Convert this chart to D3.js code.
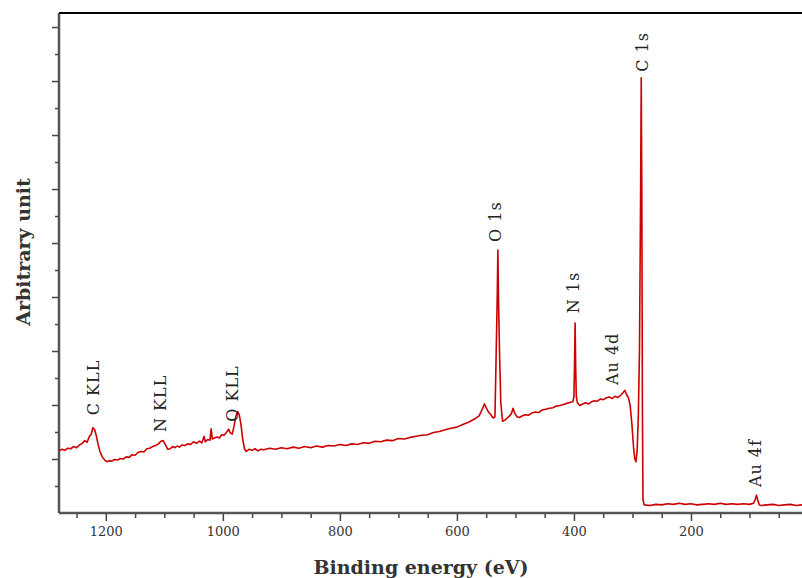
<!DOCTYPE html>
<html lang="en">
<head>
    <meta charset="UTF-8">
    <title>XPS survey spectrum</title>
    <script src="https://d3js.org/d3.v7.min.js"></script>
    <style>
        body { margin: 0; background: #fff; }
        .tick-label { font-family: "DejaVu Serif", serif; font-size: 13px; fill: #333; }
        .axis-title { font-family: "DejaVu Serif", serif; font-size: 19px; font-weight: bold; fill: #333; }
        .peak-label { font-family: "DejaVu Serif", serif; font-size: 16px; letter-spacing: 1px; fill: #222; }
        .spectrum { fill: none; stroke: #cc0000; stroke-width: 1.6px; stroke-linejoin: round; }
    </style>
</head>
<body>
<div id="chart"></div>
<script>
    const bindingEnergy = [
        1280, 1275, 1270, 1265, 1260, 1255, 1250, 1245, 1240, 1236, 1232, 1228, 1225, 1222, 1219, 1216, 1213, 1210, 1206, 1202,
        1198, 1194, 1190, 1185, 1180, 1175, 1170, 1165, 1160, 1155, 1150, 1145, 1140, 1135, 1130, 1125, 1120, 1115, 1110, 1106,
        1102, 1098, 1094, 1090, 1086, 1082, 1078, 1074, 1070, 1065, 1060, 1055, 1050, 1045, 1040, 1036, 1032, 1030, 1026, 1022,
        1020, 1018, 1014, 1010, 1006, 1002, 998, 994, 990, 987, 984, 981, 978, 975, 972, 969, 966, 963, 960, 955,
        950, 945, 940, 935, 930, 920, 910, 900, 890, 880, 870, 860, 850, 840, 830, 820, 810, 800, 790, 780,
        770, 760, 750, 740, 730, 720, 710, 700, 690, 680, 670, 660, 650, 640, 630, 620, 610, 600, 590, 580,
        570, 562, 556, 553, 550, 546, 542, 538, 535, 533, 531, 530, 529, 527, 525, 522, 518, 514, 510, 507,
        504, 501, 497, 493, 488, 483, 478, 472, 466, 460, 454, 448, 442, 436, 430, 424, 418, 412, 406, 402,
        400, 399, 398, 397, 396, 394, 390, 385, 380, 375, 370, 365, 360, 355, 350, 345, 340, 335, 330, 325,
        320, 316, 313, 310, 307, 304, 301, 298, 296, 294, 292, 290, 288, 286, 285, 284, 283, 282, 280, 270,
        260, 250, 240, 230, 220, 210, 200, 190, 180, 170, 160, 150, 140, 130, 120, 110, 100, 93, 90, 88,
        86, 83, 80, 70, 60, 50, 40, 30, 20, 10, 0
    ];
    const intensity = [
        11.5, 11.8, 11.6, 12.0, 11.9, 12.3, 12.1, 12.6, 12.9, 13.4, 13.1, 14.2, 14.6, 15.8, 15.4, 14.2, 12.6, 11.4, 10.4, 9.8,
        9.5, 9.7, 9.6, 9.9, 9.8, 10.1, 10.0, 10.4, 10.3, 10.8, 10.7, 11.2, 11.4, 11.3, 11.9, 12.0, 12.3, 12.5, 12.8, 13.3,
        13.4, 12.6, 11.8, 11.9, 12.3, 12.1, 12.4, 12.2, 12.6, 12.5, 12.8, 12.7, 13.2, 12.9, 13.3, 13.0, 14.2, 13.2, 13.6, 13.5,
        15.6, 13.7, 13.9, 14.1, 13.9, 14.5, 14.4, 14.9, 15.5, 14.8, 14.6, 16.0, 17.8, 18.8, 18.2, 16.4, 13.6, 11.9, 11.4, 11.8,
        11.6, 11.9, 11.5, 11.8, 11.7, 12.0, 11.8, 12.1, 11.9, 12.2, 12.0, 12.3, 12.1, 12.4, 12.2, 12.5, 12.4, 12.7, 12.5, 12.8,
        12.7, 13.0, 12.9, 13.3, 13.2, 13.5, 13.4, 13.8, 13.7, 14.0, 14.2, 14.4, 14.5, 14.9, 15.1, 15.4, 15.7, 15.9, 16.4, 16.8,
        17.4, 18.0, 19.4, 20.2, 19.5, 18.7, 18.2, 17.6, 17.8, 29.0, 40.5, 48.7, 40.0, 29.0, 20.5, 17.0, 17.2, 17.6, 18.0, 18.4,
        19.4, 18.4, 17.8, 17.7, 18.0, 18.2, 18.1, 18.5, 18.7, 18.6, 19.1, 19.2, 19.4, 19.5, 19.8, 19.9, 20.1, 20.3, 20.5, 20.6,
        21.5, 27.5, 35.2, 27.0, 21.6, 20.4, 19.9, 20.2, 20.4, 20.2, 20.6, 20.8, 20.7, 21.1, 21.0, 21.3, 21.5, 21.2, 21.6, 21.4,
        21.8, 22.3, 22.7, 21.9, 21.4, 20.0, 16.5, 12.0, 10.0, 9.5, 11.5, 17.8, 30.0, 60.0, 80.6, 60.0, 20.0, 2.5, 1.5, 1.4,
        1.6, 1.5, 1.7, 1.6, 1.8, 1.6, 1.7, 1.5, 1.6, 1.7, 1.6, 1.8, 1.6, 1.7, 1.6, 1.7, 1.6, 1.8, 2.6, 3.3,
        2.4, 1.5, 1.4, 1.5, 1.6, 1.4, 1.5, 1.6, 1.4, 1.5, 1.5
    ];

    // peak annotations: name, energy and the level where the label starts
    const peakNames = ["C KLL", "N KLL", "O KLL", "O 1s", "N 1s", "Au 4d", "C 1s", "Au 4f"];
    const peakEnergy = [1222, 1107, 984, 535, 401, 335, 283, 90];
    const labelLevel = [18.1, 15.0, 16.9, 50.2, 37.0, 23.7, 81.7, 4.8];

    const xMajorTicks = [1200, 1000, 800, 600, 400, 200, 0];

    const width = 802, height = 578;
    const margin = { left: 59, top: 13, bottom: 513 };

    const x = d3.scaleLinear().domain([1280, 0]).range([margin.left, 808]);
    const y = d3.scaleLinear().domain([0, 92.6]).range([margin.bottom, margin.top]);

    const svg = d3.select("#chart").append("svg")
        .attr("width", width)
        .attr("height", height);

    // x axis: major ticks with labels, minor every 50 eV
    const xMinor = d3.range(1250, -1, -50).filter(v => !xMajorTicks.includes(v));
    svg.append("g")
        .attr("transform", `translate(0,${margin.bottom})`)
        .call(d3.axisBottom(x).tickValues(xMinor).tickSize(5).tickFormat(""))
        .call(g => g.select(".domain").remove())
        .call(g => g.selectAll("line").attr("stroke", "#444").attr("stroke-width", 1.5));
    svg.append("g")
        .attr("transform", `translate(0,${margin.bottom})`)
        .call(d3.axisBottom(x).tickValues(xMajorTicks).tickSize(8).tickPadding(6).tickFormat(d3.format("d")))
        .call(g => g.select(".domain").remove())
        .call(g => g.selectAll("line").attr("stroke", "#444").attr("stroke-width", 1.5))
        .call(g => g.selectAll("text").attr("class", "tick-label"))
        .call(g => g.attr("font-family", null).attr("font-size", null));

    // y axis: unlabeled ticks
    svg.append("g")
        .attr("transform", `translate(${margin.left},0)`)
        .call(d3.axisLeft(y).tickValues(d3.range(5, 90, 10)).tickSize(4).tickFormat(""))
        .call(g => g.select(".domain").remove())
        .call(g => g.selectAll("line").attr("stroke", "#444").attr("stroke-width", 1.5));
    svg.append("g")
        .attr("transform", `translate(${margin.left},0)`)
        .call(d3.axisLeft(y).tickValues(d3.range(10, 91, 10)).tickSize(7).tickFormat(""))
        .call(g => g.select(".domain").remove())
        .call(g => g.selectAll("line").attr("stroke", "#444").attr("stroke-width", 1.5));

    // frame lines
    svg.append("line").attr("x1", margin.left).attr("x2", width).attr("y1", margin.bottom).attr("y2", margin.bottom)
        .attr("stroke", "#555").attr("stroke-width", 2.5);
    svg.append("line").attr("x1", margin.left).attr("x2", margin.left).attr("y1", margin.top).attr("y2", margin.bottom)
        .attr("stroke", "#555").attr("stroke-width", 2.5);
    svg.append("line").attr("x1", margin.left).attr("x2", width).attr("y1", margin.top).attr("y2", margin.top)
        .attr("stroke", "#000").attr("stroke-width", 2);

    // spectrum
    const points = bindingEnergy.map((e, i) => [e, intensity[i]]);
    svg.append("path")
        .datum(points)
        .attr("class", "spectrum")
        .attr("d", d3.line().x(d => x(d[0])).y(d => y(d[1])));

    // peak labels
    svg.selectAll(".peak-label")
        .data(peakNames)
        .enter()
        .append("text")
        .attr("class", "peak-label")
        .attr("transform", (d, i) => `translate(${x(peakEnergy[i])},${y(labelLevel[i])}) rotate(-90)`)
        .attr("dy", "0.35em")
        .text(d => d);

    // axis titles
    svg.append("text")
        .attr("class", "axis-title")
        .attr("x", 421)
        .attr("y", 574)
        .attr("text-anchor", "middle")
        .text("Binding energy (eV)");

    svg.append("text")
        .attr("class", "axis-title")
        .attr("transform", "translate(23,252) rotate(-90)")
        .attr("text-anchor", "middle")
        .attr("dy", "0.35em")
        .text("Arbitrary unit");
</script>
</body>
</html>
